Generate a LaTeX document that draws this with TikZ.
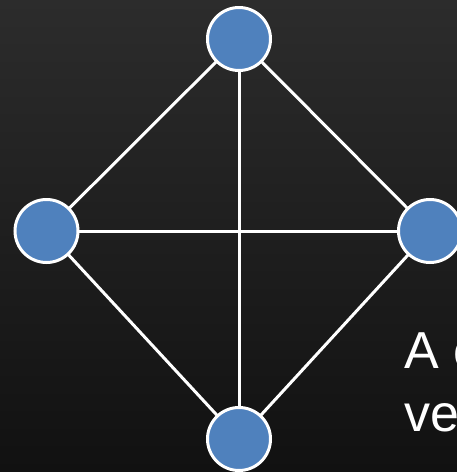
\documentclass[tikz,border=0pt]{standalone}
\usepackage{fontspec}
\setmainfont{Liberation Sans}
\definecolor{nodeblue}{HTML}{4F81BD}
\definecolor{bgtop}{HTML}{2C2C2C}
\definecolor{bgbot}{HTML}{111111}
\begin{document}
\begin{tikzpicture}[x=1pt,y=-1pt,
  vertex/.style={circle,draw=white,line width=3pt,fill=nodeblue,minimum size=63pt,inner sep=0pt},
  edge/.style={draw=white,line width=3pt},
  caption/.style={text=white,font=\fontsize{52}{63}\selectfont,anchor=north west,inner sep=0pt,align=left}]
\useasboundingbox (0,0) rectangle (457,472);
\clip (0,0) rectangle (457,472);
\shade[top color=bgtop,bottom color=bgbot,shading angle=0] (0,0) rectangle (457,472);
\coordinate (T) at (239,39);
\coordinate (L) at (46.5,231);
\coordinate (R) at (430,231);
\coordinate (B) at (239,439);
\draw[edge] (T) -- (L);
\draw[edge] (T) -- (R);
\draw[edge] (T) -- (B);
\draw[edge] (L) -- (R);
\draw[edge] (L) -- (B);
\draw[edge] (R) -- (B);
\node[vertex] (t) at (T) {};
\node[vertex] (l) at (L) {};
\node[vertex] (r) at (R) {};
\node[vertex] (b) at (B) {};
\node[caption] (cap) at (404,333) {A c\\ve};
\end{tikzpicture}
\end{document}
